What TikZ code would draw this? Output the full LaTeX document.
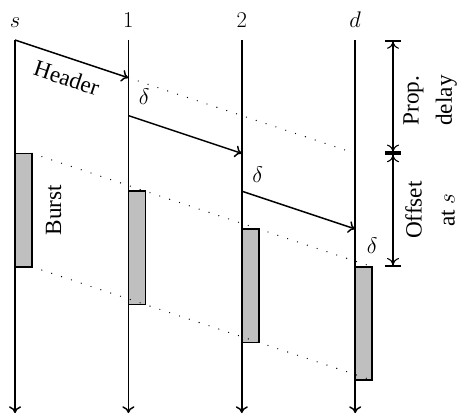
\RequirePackage{fix-cm}
\documentclass[tikz,border=0pt]{standalone}
\usepackage{fontspec}
\setmainfont{Liberation Serif}
\usetikzlibrary{arrows.meta}
\begin{document}
\begin{tikzpicture}[
  font=\fontsize{17}{20}\selectfont,
  txt/.style={font=\fontsize{17.5}{21}\selectfont},
  timeline/.style={line width=1.1pt,-{To[length=1.8mm,width=3.2mm]}},
  msg/.style={line width=1.1pt,-{To[length=1.8mm,width=3.2mm]}},
  dots/.style={line width=1pt,line cap=round,dash pattern=on 0pt off 7.8pt},
  burstbox/.style={line width=1.1pt,fill=gray!50},
  dim/.style={line width=0.8pt,{Bar[width=4mm,line width=1.5pt]To[length=1.8mm,width=3.2mm]}-{To[length=1.8mm,width=3.2mm]Bar[width=4mm,line width=1.5pt]}},
  lab/.style={anchor=base},
  dimlab/.style={txt,rotate=90,align=center}
]
\useasboundingbox (-0.397,-9.947) rectangle (11.746,1.058);
% time lines
\foreach \x/\n/\t in {0/s/$s$,3/a/$1$,6/b/$2$,9/d/$d$}{
  \node[lab] (lab-\n) at (\x,0.34) {\t};
  \coordinate (top-\n) at (\x,0);
  \coordinate (bot-\n) at (\x,-9.87);
  \draw[timeline] (top-\n) -- (bot-\n);
}
% bursts
\draw[burstbox] (0,-3) rectangle (0.45,-6);
\draw[burstbox] (3,-4) rectangle (3.45,-7);
\draw[burstbox] (6,-5) rectangle (6.45,-8);
\draw[burstbox] (9,-6) rectangle (9.45,-9);
% dotted guides
\coordinate (h1) at (3,-1);
\coordinate (h3) at (9,-3);
\draw[dots] (h1) -- (h3);
\coordinate (bt0) at (0.45,-3);
\coordinate (bt3) at (9.45,-6);
\draw[dots] (bt0) -- (bt3);
\coordinate (bb0) at (0.45,-6);
\coordinate (bb3) at (9.45,-9);
\draw[dots] (bb0) -- (bb3);
% header messages
\draw[msg] (top-s) -- (h1);
\node[txt,rotate=-18.43] (hdr) at (1.37,-1.0) {Header};
\coordinate (d1) at (3,-2);
\coordinate (a2) at (6,-3);
\coordinate (d2) at (6,-4);
\coordinate (a3) at (9,-5);
\draw[msg] (d1) -- (a2);
\draw[msg] (d2) -- (a3);
% delta labels
\node (del1) at (3.42,-1.5) {$\delta$};
\node (del2) at (6.42,-3.55) {$\delta$};
\node (del3) at (9.45,-5.45) {$\delta$};
% burst label
\node[txt,rotate=90] (burst) at (1.02,-4.5) {Burst};
% dimensions
\coordinate (m0) at (10,0);
\coordinate (m1) at (10,-3);
\coordinate (m2) at (10,-6);
\draw[dim] (m0) -- (m1);
\draw[dim] (m1) -- (m2);
\node[dimlab] (prop) at (10.98,-1.6) {Prop.\\[4pt]delay};
\node[dimlab] (off) at (10.98,-4.5) {Offset\\[4pt]at $s$};
\end{tikzpicture}
\end{document}
